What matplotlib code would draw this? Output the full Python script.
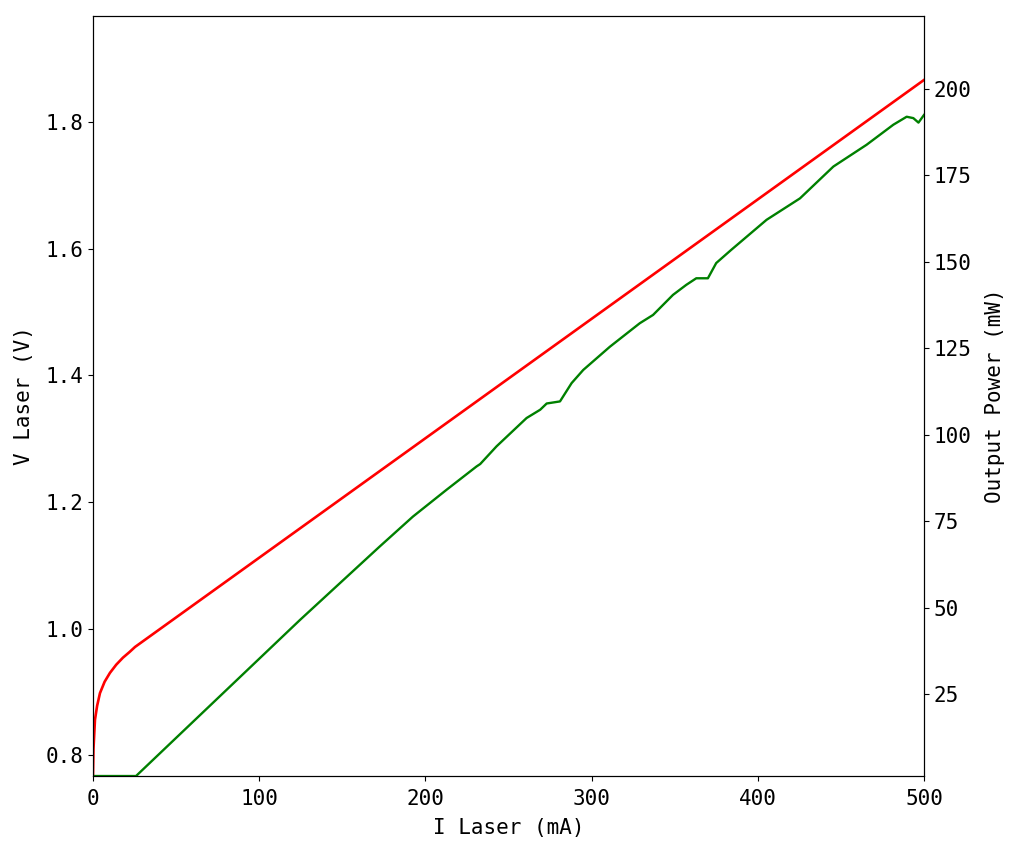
import matplotlib
matplotlib.use("Agg")
from matplotlib import pyplot as plt

# V-I curve (red)
i_volt = [0, 0.3, 1.2, 2.5, 4.2, 7, 10.2, 14, 18, 22, 25.3, 500]
v_laser = [0.767, 0.81, 0.856, 0.878, 0.898, 0.916, 0.930, 0.943, 0.954, 0.963, 0.971, 1.867]

# L-I curve (green)
i_pow = [0, 25.9, 124.5, 137.6, 172.4, 192.5, 212.6, 230.8, 233, 242.8, 260.9,
         269.1, 273, 281, 288, 295, 311, 329, 337, 349, 357, 363, 370, 375,
         384, 405.3, 425.4, 445.5, 465.5, 481.6, 489.6, 493.6, 496.7, 500]
power = [1.3, 1.3, 46.4, 52.2, 67.6, 76.3, 84.0, 90.8, 91.5, 96.6, 104.8,
         107.2, 109.0, 109.6, 114.9, 118.7, 125.4, 132.2, 134.6, 140.4, 143.3, 145.2, 145.2, 149.6,
         153.4, 162.1, 168.3, 177.5, 183.8, 189.6, 191.9, 191.5, 190.2, 192.4]

plt.rcParams['font.family'] = ['DejaVu Sans Mono']

fig = plt.figure(figsize=(10.24, 8.46), dpi=100)
ax = fig.add_axes([0.0908, 0.0827, 0.8115, 0.8983])
ax2 = ax.twinx()

ax.plot(i_volt, v_laser, color='red', lw=1.9)
ax2.plot(i_pow, power, color='green', lw=1.7)

ax.set_xlim(0, 500)
ax.set_ylim(0.767, 1.968)
ax2.set_ylim(1.3, 221)
ax.set_yticks([0.8, 1.0, 1.2, 1.4, 1.6, 1.8])
ax2.set_yticks([25, 50, 75, 100, 125, 150, 175, 200])
ax.set_xticks([0, 100, 200, 300, 400, 500])

ax.set_xlabel("I Laser (mA)", size=15, labelpad=6)
ax.set_ylabel("V Laser (V)", size=15, labelpad=8)
ax2.set_ylabel("Output Power (mW)", size=15, labelpad=10)

ax.tick_params(labelsize=15)
ax.tick_params(axis='x', pad=6)
ax2.tick_params(labelsize=15)

fig.savefig("out.png", dpi=100)
